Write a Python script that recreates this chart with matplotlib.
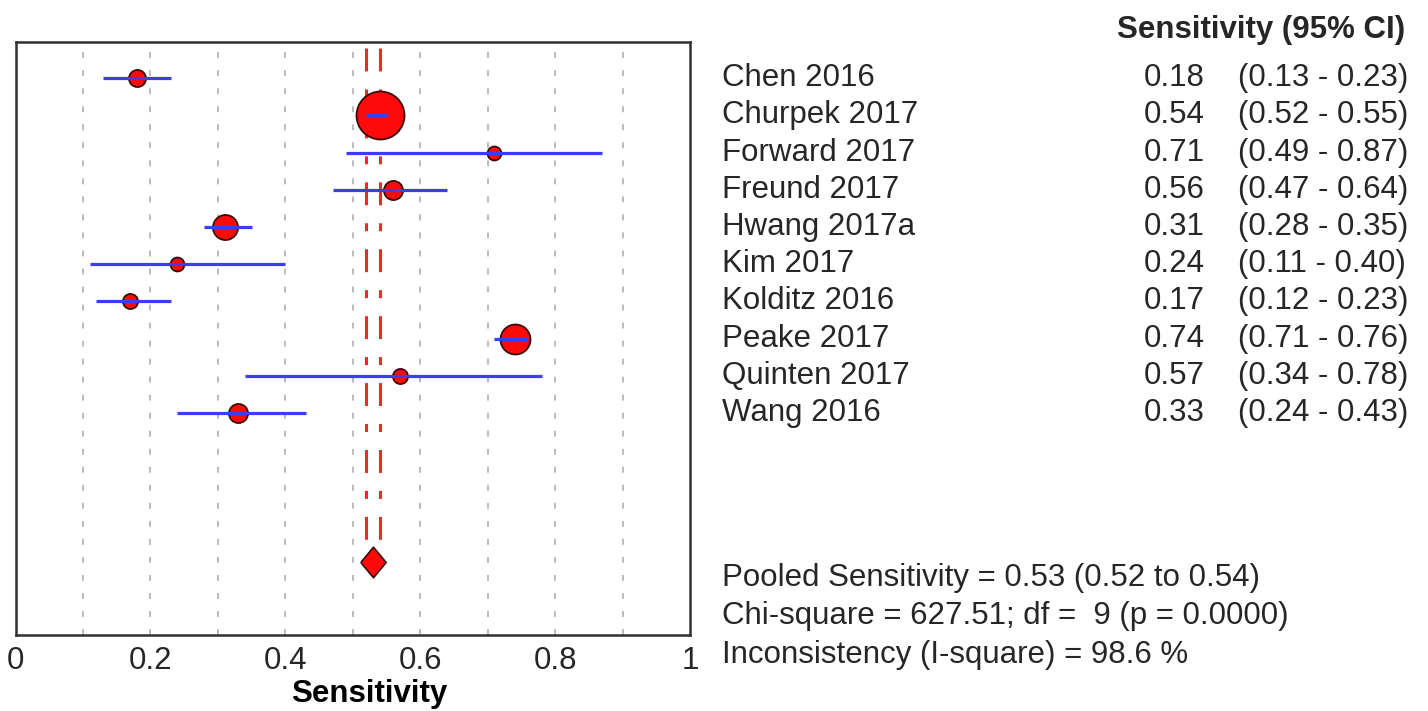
import numpy as np
import matplotlib
matplotlib.use("Agg")
import matplotlib.pyplot as plt
from matplotlib import font_manager
from matplotlib.transforms import blended_transform_factory

# ----------------------------
# Data (sensitivity per study)
# ----------------------------
studies = [
    "Chen 2016", "Churpek 2017", "Forward 2017", "Freund 2017", "Hwang 2017a",
    "Kim 2017", "Kolditz 2016", "Peake 2017", "Quinten 2017", "Wang 2016",
]
sens = [0.18, 0.54, 0.71, 0.56, 0.31, 0.24, 0.17, 0.74, 0.57, 0.33]
ci_low = [0.13, 0.52, 0.49, 0.47, 0.28, 0.11, 0.12, 0.71, 0.34, 0.24]
ci_high = [0.23, 0.55, 0.87, 0.64, 0.35, 0.40, 0.23, 0.76, 0.78, 0.43]
# study weight (%)
weights = [5.1, 40.5, 3.4, 6.4, 11.0, 3.4, 4.0, 15.8, 4.0, 6.4]

pooled = 0.53
pooled_low = 0.52
pooled_high = 0.54

xticks = [0, 0.2, 0.4, 0.6, 0.8, 1.0]
xtick_labels = ["0", "0.2", "0.4", "0.6", "0.8", "1"]
grid_x = [0.1, 0.2, 0.3, 0.4, 0.5, 0.6, 0.7, 0.8, 0.9]

stats_lines = [
    "Pooled Sensitivity = 0.53 (0.52 to 0.54)",
    "Chi-square = 627.51; df =  9 (p = 0.0000)",
    "Inconsistency (I-square) = 98.6 %",
]

# ----------------------------
# Font: narrow Arial-like if available
# ----------------------------
installed = {f.name for f in font_manager.fontManager.ttflist}
if "Liberation Sans Narrow" in installed:
    FAMILY, FS = "Liberation Sans Narrow", 27
else:
    FAMILY, FS = "Liberation Sans", 22.5

plt.rcParams.update({
    "font.family": FAMILY,
    "font.size": FS,
    "text.color": "#262626",
    "xtick.color": "#262626",
})

fig = plt.figure(figsize=(14.28, 7.11), dpi=100)
ax = fig.add_axes([0.0109, 0.1069, 0.4723, 0.834])

n = len(studies)
rows = np.arange(n)
pooled_row = 13

# gridlines
for gx in grid_x:
    ax.axvline(gx, color="#a8a8a8", lw=1.1, linestyle=(0, (3.9, 7.9)), zorder=1)

# pooled CI lines
for px in [pooled_low, pooled_high]:
    ax.plot([px, px], [-0.8, pooled_row], color="#f02828", lw=2.2,
            linestyle=(0, (7.5, 5.9, 2.6, 5.9)), zorder=2)

# study markers + CI bars
for i in range(n):
    d_px = np.sqrt(weights[i] * 56.8)
    ax.plot(sens[i], rows[i], marker="o", ms=d_px * 0.72, mfc="#ff0a0a",
            mec="#3a0606", mew=1.3, zorder=3)
    ax.plot([ci_low[i], ci_high[i]], [rows[i], rows[i]], color="#3c3cf0",
            lw=2.3, solid_capstyle="butt", zorder=4)

# pooled diamond
diamond = [(-0.83, 0), (0, 1), (0.83, 0), (0, -1), (-0.83, 0)]
ax.plot(pooled, pooled_row, marker=diamond, ms=22, mfc="#ff0a0a",
        mec="#3a0606", mew=1.2, zorder=5)

ax.set_xlim(0, 1)
ax.set_ylim(14.97, -0.97)
ax.set_yticks([])
ax.set_xticks(xticks, xtick_labels)
ax.tick_params(axis="x", length=0, pad=8, labelsize=FS)
ax.set_xlabel("Sensitivity", fontweight="bold", fontsize=FS, labelpad=0)
ax.xaxis.set_label_coords(0.525, -0.075)
for sp in ax.spines.values():
    sp.set_linewidth(1.8)
    sp.set_color("#303030")

# right-hand table
tr = blended_transform_factory(fig.transFigure, ax.transData)
fig.text(0.984, 0.958, "Sensitivity (95% CI)", ha="right", va="center",
         fontweight="bold", fontsize=FS)
for i in range(n):
    ax.text(0.5056, rows[i], studies[i], transform=tr, ha="left", va="center",
            fontsize=FS, clip_on=False)
    ax.text(0.8438, rows[i], f"{sens[i]:.2f}", transform=tr, ha="right",
            va="center", fontsize=FS, clip_on=False)
    ax.text(0.867, rows[i], f"({ci_low[i]:.2f} - {ci_high[i]:.2f})", transform=tr,
            ha="left", va="center", fontsize=FS, clip_on=False)

for y, line in zip([0.187, 0.1337, 0.0788], stats_lines):
    fig.text(0.5056, y, line, ha="left", va="center", fontsize=FS)

fig.savefig("out.png", dpi=100)
